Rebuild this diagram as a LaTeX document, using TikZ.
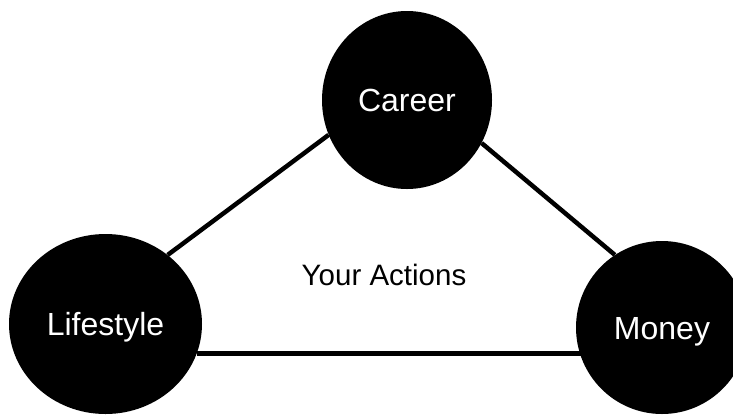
\documentclass[tikz,border=0pt]{standalone}
\usepackage{fontspec}
\setmainfont{Liberation Sans}
\usetikzlibrary{shapes.geometric}
\pgfdeclarelayer{background}
\pgfsetlayers{background,main}
\begin{document}
\begin{tikzpicture}[x=1pt,y=-1pt,
  area/.style={ellipse, fill=black, text=white, inner sep=0pt,
    font=\fontsize{32}{38}\selectfont, text height=23pt, text depth=0pt},
  link/.style={line width=4.5pt, black}]
  \useasboundingbox (0,0) rectangle (733,416);
  \clip (0,0) rectangle (733,416);
  % the three areas
  \node[area, minimum width=170pt, minimum height=178pt] (C) at (407,100) {Career};
  \node[area, minimum width=193pt, minimum height=180pt] (L) at (105.5,324) {Lifestyle};
  \node[area, minimum width=172pt, minimum height=173pt] (M) at (662,327.5) {Money};
  % links between the areas, behind the shapes
  \begin{pgfonlayer}{background}
    \draw[link] (L.48) -- (C.204.4);
    \draw[link] (C.-30.5) -- (M.123.5);
    \draw[link] (L.-18.2) -- (L.-18.2 -| M.center);
  \end{pgfonlayer}
  \node[font=\fontsize{29.5}{35}\selectfont, text height=21pt, text depth=0pt] (A) at (384,275) {Your Actions};
\end{tikzpicture}
\end{document}
